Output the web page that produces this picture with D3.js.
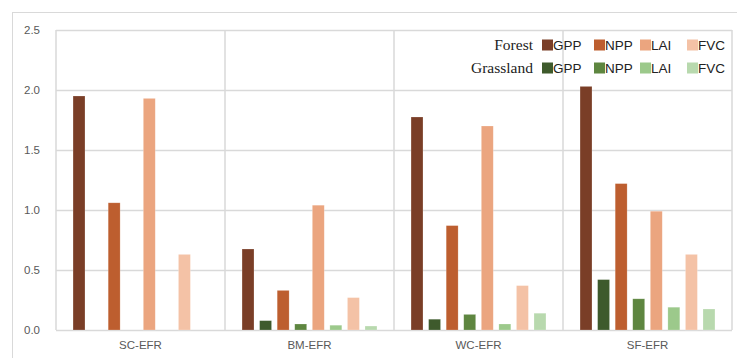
<!DOCTYPE html>
<html><head><meta charset="utf-8">
<script src="https://cdn.jsdelivr.net/npm/d3@7"></script>
<style>body{margin:0;background:#fff}svg{display:block}</style>
</head><body><svg id="c" width="737" height="358"></svg>
<script>
const regions = ["SC-EFR","BM-EFR","WC-EFR","SF-EFR"];
const seriesKeys = ["fGPP","gGPP","fNPP","gNPP","fLAI","gLAI","fFVC","gFVC"];
const forestGPP = [1.95, 0.675, 1.775, 2.03];
const grassGPP  = [0, 0.078, 0.09, 0.42];
const forestNPP = [1.06, 0.33, 0.87, 1.22];
const grassNPP  = [0, 0.05, 0.13, 0.26];
const forestLAI = [1.93, 1.04, 1.70, 0.99];
const grassLAI  = [0, 0.04, 0.05, 0.19];
const forestFVC = [0.63, 0.27, 0.37, 0.63];
const grassFVC  = [0, 0.033, 0.14, 0.175];
const yTicks = [0, 0.5, 1.0, 1.5, 2.0, 2.5];
const metrics = ["GPP","NPP","LAI","FVC"];
const forestColors = ["#7A3E27","#BD5E2F","#EBA57F","#F4C2A6"];
const grassColors  = ["#3E5A2C","#5E8640","#9CC98B","#B8D9AE"];

const values = {fGPP:forestGPP,gGPP:grassGPP,fNPP:forestNPP,gNPP:grassNPP,fLAI:forestLAI,gLAI:grassLAI,fFVC:forestFVC,gFVC:grassFVC};
const colors = {fGPP:forestColors[0],gGPP:grassColors[0],fNPP:forestColors[1],gNPP:grassColors[1],fLAI:forestColors[2],gLAI:grassColors[2],fFVC:forestColors[3],gFVC:grassColors[3]};

const svg = d3.select("#c");
const L=56, R=732, T=30, B=330;
const grid = "#D9D9D9";

// outer border
svg.append("rect").attr("x",12.5).attr("y",12.5).attr("width",740).attr("height",360)
  .attr("fill","none").attr("stroke",grid).attr("stroke-width",1);

const x0 = d3.scaleBand().domain(regions).range([L,R]).padding(0);
const x1 = d3.scaleBand().domain(seriesKeys).range([0,x0.bandwidth()]).paddingInner(0.32).paddingOuter(0.97);
const y = d3.scaleLinear().domain([0,2.5]).range([B,T]);

// gridlines
svg.append("g").selectAll("line").data(yTicks).join("line")
  .attr("x1",L).attr("x2",R).attr("y1",d=>Math.round(y(d))+0.5).attr("y2",d=>Math.round(y(d))+0.5)
  .attr("stroke",grid).attr("stroke-width",1.3);
// group separators
svg.append("g").selectAll("line").data(regions.concat(["end"])).join("line")
  .attr("x1",(d,i)=>L+i*x0.bandwidth()).attr("x2",(d,i)=>L+i*x0.bandwidth())
  .attr("y1",T).attr("y2",B).attr("stroke",grid).attr("stroke-width",1.5);

// y axis labels
const yAxis = d3.axisLeft(y).tickValues(yTicks).tickFormat(d3.format(".1f")).tickSize(0).tickPadding(0);
const ya = svg.append("g").attr("transform","translate(40,0)").call(yAxis);
ya.select(".domain").remove();
ya.selectAll("text").attr("fill","#595959").style("font-family","'Liberation Sans', Arial, sans-serif").style("font-size","11.5px");

// bars
const g = svg.append("g");
regions.forEach((r,ri)=>{
  seriesKeys.forEach(k=>{
    const v = values[k][ri];
    if (v<=0) return;
    g.append("rect")
      .attr("x",x0(r)+x1(k)).attr("width",x1.bandwidth())
      .attr("y",y(v)).attr("height",y(0)-y(v))
      .attr("fill",colors[k]).attr("stroke","rgba(255,255,255,0.35)").attr("stroke-width",0.6);
  });
});

// x axis labels
const xAxis = d3.axisBottom(x0).tickSize(0).tickPadding(11);
const xa = svg.append("g").attr("transform",`translate(0,${B})`).call(xAxis);
xa.select(".domain").remove();
xa.selectAll("text").attr("fill","#595959").style("font-family","'Liberation Sans', Arial, sans-serif").style("font-size","11.5px");

// legend
const legX = [542, 594, 640, 687];
const legRows = [{name:"Forest",cols:forestColors,y:45},{name:"Grassland",cols:grassColors,y:68}];
const leg = svg.append("g");
legRows.forEach(row=>{
  leg.append("text").attr("x",533).attr("y",row.y+5).attr("text-anchor","end")
    .style("font-family","'Liberation Serif','Times New Roman',serif").style("font-size","15.5px").attr("fill","#222")
    .text(row.name);
  metrics.forEach((m,i)=>{
    leg.append("rect").attr("x",legX[i]).attr("y",row.y-5.5).attr("width",11).attr("height",11).attr("fill",row.cols[i]);
    leg.append("text").attr("x",legX[i]+11).attr("y",row.y+5)
      .style("font-family","'Liberation Sans',Arial,sans-serif").style("font-size","13.5px").attr("fill","#222")
      .text(m);
  });
});
</script></body></html>
